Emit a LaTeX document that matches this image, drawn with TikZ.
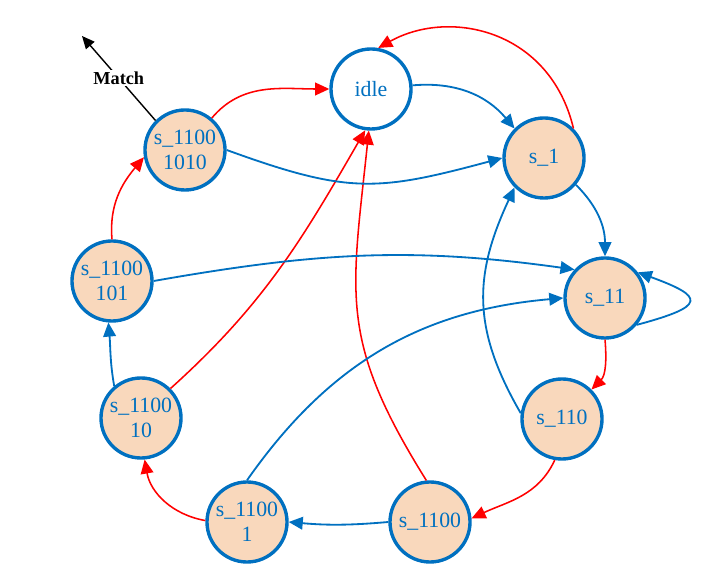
\documentclass[tikz,border=0pt]{standalone}
\usepackage{fontspec}
\setmainfont{Liberation Serif}
\definecolor{stateblue}{RGB}{0,112,192}
\definecolor{statefill}{RGB}{249,216,188}
\usepackage{tikz}
\usetikzlibrary{arrows.meta}

\begin{document}
\begin{tikzpicture}[
  x=0.025cm,y=0.025cm,
  state/.style={circle,draw=stateblue,line width=2.4pt,fill=statefill,inner sep=0pt,
                minimum size=2cm,align=center,text=stateblue,
                font=\fontsize{15.5}{18}\selectfont},
  idlestate/.style={state,fill=white},
  redarr/.style={-{Triangle[length=10pt,width=9pt]},line width=1.1pt,color=red},
  bluearr/.style={-{Triangle[length=10pt,width=9pt]},line width=1.3pt,color=stateblue},
  matcharr/.style={-{Triangle[length=9pt,width=8pt]},line width=1pt,color=black}
]
  \useasboundingbox (0,0) rectangle (720,570);
  \node[idlestate] (idle) at (371,481) {idle};
  \node[state] (s1)     at (544,412) {s\_1};
  \node[state] (s11)    at (605,272) {s\_11};
  \node[state] (s110)   at (562,151) {s\_110};
  \node[state] (s1100)  at (430,48)  {s\_1100};
  \node[state] (s1100a) at (247,48)  {s\_1100\\1};
  \node[state] (s1100b) at (141,152) {s\_1100\\10};
  \node[state] (s1100c) at (112,289) {s\_1100\\101};
  \node[state] (s1100d) at (185,420) {s\_1100\\1010};
  \coordinate (match) at (82,534);

  % output
  \draw[matcharr] (s1100d.135) -- (match)
    node[midway,fill=white,inner sep=1pt,font=\fontsize{13}{15}\selectfont\bfseries] {Match};

  % red transitions
  \draw[redarr] (s1.45) .. controls (550,540) and (450,562) .. (idle.80);
  \draw[redarr] (s11.270) to[out=-85,in=45] (s110.45);
  \draw[redarr] (s110.-100) to[out=-115,in=25] (s1100.5);
  \draw[redarr] (s1100.95) to[out=122,in=-96,looseness=1.2] (idle.-93);
  \draw[redarr] (s1100a.178) to[out=170,in=-80] (s1100b.-85);
  \draw[redarr] (s1100b.45) to[out=42,in=-120] (idle.-98);
  \draw[redarr] (s1100c.90) to[out=95,in=-130] (s1100d.190);
  \draw[redarr] (s1100d.50) to[out=50,in=180] (idle.180);

  % blue transitions
  \draw[bluearr] (idle.5) to[out=5,in=130] (s1.135);
  \draw[bluearr] (s1100d.0) to[out=-20,in=195,looseness=1.2] (s1.180);
  \draw[bluearr] (s1.-40) to[out=-45,in=90] (s11.90);
  \draw[bluearr] (s1100c.0) to[out=10,in=172] (s11.137);
  \draw[bluearr] (s1100a.90) to[out=55,in=185] (s11.180);
  \draw[bluearr] (s110.172) to[out=120,in=-115,looseness=1.1] (s1.-135);
  \draw[bluearr] (s11.-40) to[out=15,in=-20,looseness=3.5] (s11.38);
  \draw[bluearr] (s1100.180) to[bend left=5] (s1100a.0);
  \draw[bluearr] (s1100b.130) to[out=100,in=-85] (s1100c.-95);
\end{tikzpicture}
\end{document}
